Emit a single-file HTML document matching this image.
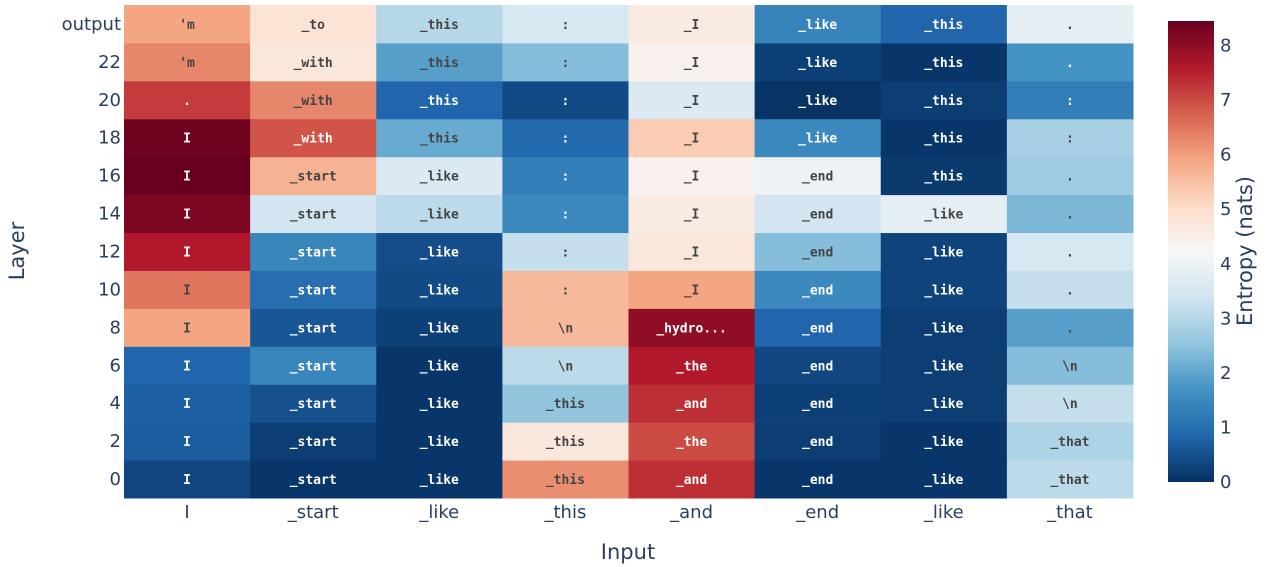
<!DOCTYPE html>
<html><head><meta charset="utf-8"><style>
body{margin:0;background:#fff;}
svg{display:block;font-family:"DejaVu Sans","Liberation Sans",sans-serif;}
</style></head><body>
<svg id="chart" width="1268" height="567">
<defs><linearGradient id="cbgrad" x1="0" y1="1" x2="0" y2="0"></linearGradient></defs>
<g id="cells"></g>
<g id="yticks"></g>
<g id="xticks"></g>
<text x="0" y="0" transform="translate(24,251) rotate(-90)" text-anchor="middle" font-size="21" fill="#2a3f5f">Layer</text>
<text x="628" y="559" text-anchor="middle" font-size="21" fill="#2a3f5f">Input</text>
<g id="colorbar"></g>
<text transform="translate(1252,251) rotate(-90)" text-anchor="middle" font-size="21" fill="#2a3f5f">Entropy (nats)</text>
</svg>
<script>
const inputs = ["I","_start","_like","_this","_and","_end","_like","_that"];
const layers = ["0","2","4","6","8","10","12","14","16","18","20","22","output"];
const entropy = [
 [0.35,0.1,0.1,6.2,7.35,0.1,0.1,3.1],
 [0.7,0.2,0.1,4.7,7.0,0.2,0.1,2.9],
 [0.75,0.5,0.1,2.55,7.35,0.25,0.2,3.2],
 [0.85,1.45,0.1,3.1,7.6,0.35,0.2,2.4],
 [5.9,0.6,0.25,5.6,8.0,0.85,0.2,1.9],
 [6.5,1.0,0.4,5.6,5.9,1.5,0.3,3.2],
 [7.6,1.45,0.45,3.2,4.7,2.4,0.3,3.5],
 [8.2,3.4,3.1,1.5,4.6,3.4,3.8,2.3],
 [8.45,5.7,3.6,1.3,4.4,4.0,0.15,2.7],
 [8.35,6.9,2.1,0.9,5.3,1.5,0.1,2.8],
 [7.2,6.3,0.85,0.4,3.6,0.05,0.2,1.3],
 [6.3,4.7,1.9,2.4,4.4,0.25,0.1,1.7],
 [5.9,4.8,3.0,3.5,4.6,1.4,0.85,3.8]
];
const topTokens = [
 ["I","_start","_like","_this","_and","_end","_like","_that"],
 ["I","_start","_like","_this","_the","_end","_like","_that"],
 ["I","_start","_like","_this","_and","_end","_like","\\n"],
 ["I","_start","_like","\\n","_the","_end","_like","\\n"],
 ["I","_start","_like","\\n","_hydro...","_end","_like","."],
 ["I","_start","_like",":","_I","_end","_like","."],
 ["I","_start","_like",":","_I","_end","_like","."],
 ["I","_start","_like",":","_I","_end","_like","."],
 ["I","_start","_like",":","_I","_end","_this","."],
 ["I","_with","_this",":","_I","_like","_this",":"],
 [".","_with","_this",":","_I","_like","_this",":"],
 ["'m","_with","_this",":","_I","_like","_this","."],
 ["'m","_to","_this",":","_I","_like","_this","."]
];
const cbTicks = [0,1,2,3,4,5,6,7,8];
const zmax = 8.45;
const stops=[[5,48,97],[33,102,172],[67,147,195],[146,197,222],[209,229,240],[247,247,247],[253,219,199],[244,165,130],[214,96,77],[178,24,43],[103,0,31]];
function color(v){let t=Math.max(0,Math.min(1,v/zmax))*10;let i=Math.min(9,Math.floor(t));let f=t-i;const a=stops[i],b=stops[i+1];return [0,1,2].map(k=>Math.round(a[k]+(b[k]-a[k])*f));}
const NS="http://www.w3.org/2000/svg";
const X0=124,X1=1133,Y0=5,Y1=498;
const cw=(X1-X0)/inputs.length, ch=(Y1-Y0)/layers.length;
const xPos=i=>X0+i*cw;
const yPos=r=>Y1-(r+1)*ch;
function el(t,attrs,parent){const e=document.createElementNS(NS,t);for(const k in attrs)e.setAttribute(k,attrs[k]);parent.appendChild(e);return e;}
const cells=document.getElementById('cells');
entropy.forEach((row,r)=>row.forEach((v,c)=>{
 const col=color(v);
 const rect=el('rect',{x:xPos(c),y:yPos(r),width:cw+0.5,height:ch+0.5,fill:`rgb(${col})`},cells);
 
 
 const lum=0.299*col[0]+0.587*col[1]+0.114*col[2];
 const tx=el('text',{x:xPos(c)+cw/2,y:yPos(r)+ch/2+5,'text-anchor':'middle','font-size':'13','font-weight':'bold','font-family':'"DejaVu Sans Mono","Liberation Mono",monospace',fill:lum<140?'#fff':'#444'},cells);
 tx.textContent=topTokens[r][c];
 
 
}));
const yt=document.getElementById('yticks');
layers.forEach((l,r)=>{const t=el('text',{x:121,y:yPos(r)+ch/2+6,'text-anchor':'end','font-size':'18',fill:'#2a3f5f'},yt);t.textContent=l;
 
 });
const xt=document.getElementById('xticks');
inputs.forEach((l,c)=>{const t=el('text',{x:xPos(c)+cw/2,y:518,'text-anchor':'middle','font-size':'18',fill:'#2a3f5f'},xt);t.textContent=l;
 
 });
const g=document.getElementById('cbgrad');
stops.forEach((s,i)=>el('stop',{offset:i/10,'stop-color':`rgb(${s})`},g));
const cb=document.getElementById('colorbar');
const CB0=482,CBtop=21;
const cbY=v=>CB0-(v/zmax)*(CB0-CBtop);
const cbr=el('rect',{x:1168,y:CBtop,width:46,height:CB0-CBtop,fill:'url(#cbgrad)'},cb);


cbTicks.forEach(v=>{const t=el('text',{x:1220,y:cbY(v)+6,'font-size':'18',fill:'#2a3f5f'},cb);t.textContent=v;
 
 });
</script>
</body></html>
